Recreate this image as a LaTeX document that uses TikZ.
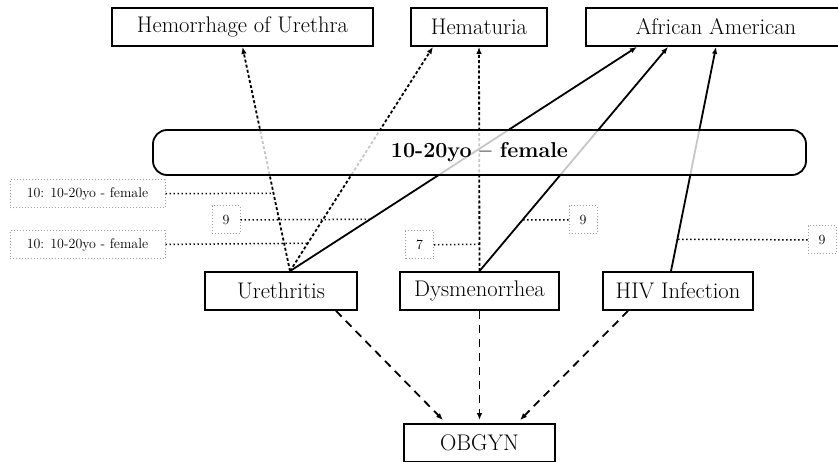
\documentclass[tikz,border=0pt]{standalone}
\usetikzlibrary{arrows.meta,calc}
\begin{document}
\begin{tikzpicture}[x=1pt,y=-1pt,
  box/.style={draw, line width=1.8pt, minimum height=38pt, inner sep=0pt,
    font=\fontsize{22.6}{27}\selectfont},
  groupbox/.style={draw, rounded corners=14pt, line width=1.8pt, fill=white,
    fill opacity=0.78, text opacity=1, minimum height=45pt, inner sep=0pt,
    font=\bfseries\fontsize{21.5}{26}\selectfont},
  lbl/.style={draw=gray!75, dotted, line width=1pt, minimum size=28pt, inner sep=0pt,
    font=\fontsize{14}{16}\selectfont},
  tip/.style={-{Latex[length=7pt,width=5.5pt]}},
  updash/.style={tip, line width=1.8pt, dash pattern=on 3pt off 2.2pt},
  solidarr/.style={tip, line width=1.8pt},
  downdash/.style={tip, line width=1.8pt, dash pattern=on 8pt off 6pt},
  pinline/.style={line width=1.5pt, dash pattern=on 1.4pt off 2.6pt}]
\useasboundingbox (0,0) rectangle (838,462);

% concept boxes
\node[box, minimum width=261pt] (hem)   at (242.5,27) {Hemorrhage of Urethra};
\node[box, minimum width=136pt] (hemat) at (479,27)   {Hematuria};
\node[box, minimum width=260pt] (aa)    at (716,27)   {African American};
\node[box, minimum width=152pt] (u)     at (281,291)  {Urethritis};
\node[box, minimum width=159pt] (d)     at (479.5,291) {Dysmenorrhea};
\node[box, minimum width=150pt] (hiv)   at (678,291)  {HIV Infection};
\node[box, minimum width=151pt] (ob)    at (479.5,443) {OBGYN};

% edge end points
\coordinate (us)  at ($(u.north)+(9,0)$);
\coordinate (hs)  at ($(hiv.north)+(-7,0)$);
\coordinate (hmu) at ($(hemat.south)+(-46,0)$);
\coordinate (aau) at ($(aa.south)+(-79,0)$);
\coordinate (aad) at ($(aa.south)+(-48,0)$);
\coordinate (ub)  at ($(u.south)+(55,0)$);
\coordinate (hb)  at ($(hiv.south)+(-50,0)$);
\coordinate (obl) at ($(ob.north)+(-36.5,-3)$);
\coordinate (obm) at ($(ob.north)+(0,-3)$);
\coordinate (obr) at ($(ob.north)+(40.5,-3)$);

% upward relations
\draw[updash]   (us) -- coordinate[pos=0.347] (p1) (hem.south);
\draw[updash]   (us) -- coordinate[pos=0.124] (p2) (hmu);
\draw[solidarr] (us) -- coordinate[pos=0.231] (p3) (aau);
\draw[updash]   (d.north) -- coordinate[pos=0.12] (p4) (hemat.south);
\draw[solidarr] (d.north) -- coordinate[pos=0.228] (p5) (aad);
\draw[solidarr] (hs) -- coordinate[pos=0.142] (p6) (aa.south);

% downward relations
\draw[downdash] (ub) -- (obl);
\draw[downdash] (d.south) -- (obm);
\draw[downdash] (hb) -- (obr);

% group box over the relations
\node[groupbox, minimum width=653pt] (grp) at (479.5,152.5) {10-20yo – female};

% edge labels
\node[lbl, minimum width=155pt] (l1) at (87.5,194) {10: 10-20yo - female};
\node[lbl] (l2) at (226,220) {9};
\node[lbl, minimum width=155pt] (l3) at (87.5,245) {10: 10-20yo - female};
\node[lbl] (l4) at (419.5,245) {7};
\node[lbl] (l5) at (583,220) {9};
\node[lbl] (l6) at (822,240) {9};

\draw[pinline] (l1) -- (p1);
\draw[pinline] (l2) -- (p3);
\draw[pinline] (l3) -- (p2);
\draw[pinline] (l4) -- (p4);
\draw[pinline] (l5) -- (p5);
\draw[pinline] (l6) -- (p6);
\end{tikzpicture}
\end{document}
